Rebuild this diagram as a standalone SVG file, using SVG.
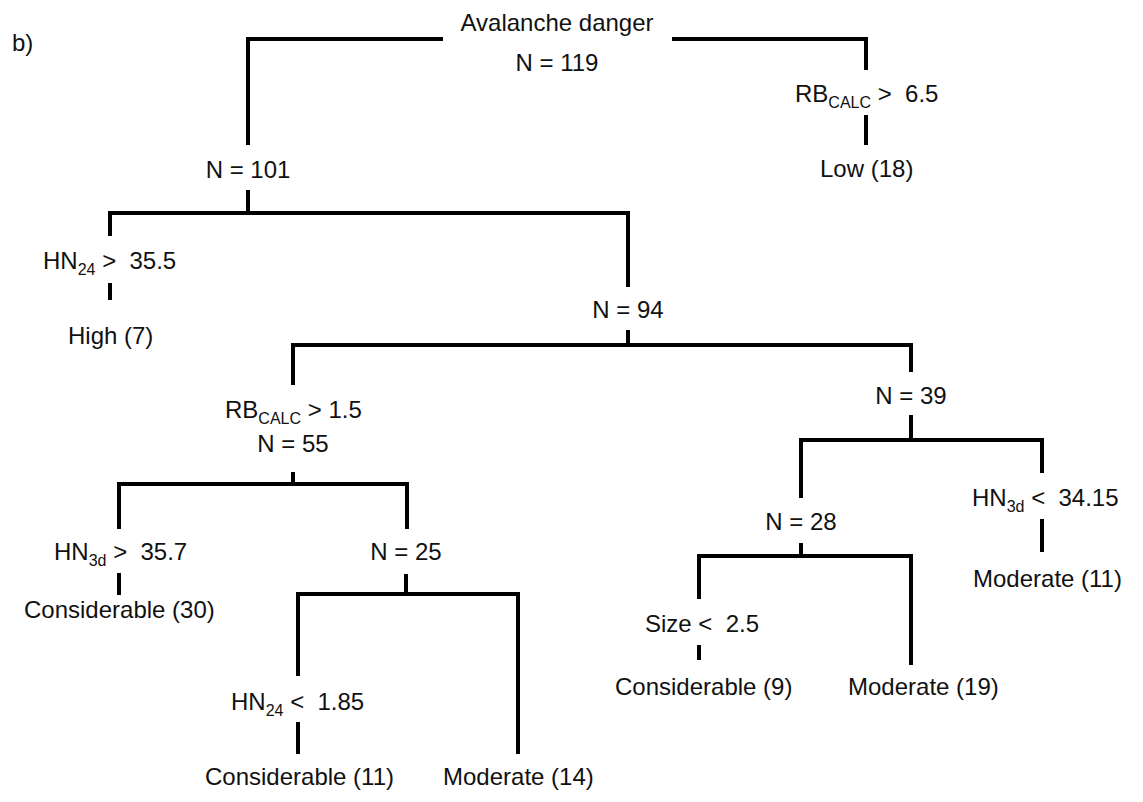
<svg xmlns="http://www.w3.org/2000/svg" width="1143" height="802" viewBox="0 0 1143 802">
<style>
text{font-family:"Liberation Sans",Arial,sans-serif;font-size:24px;fill:#111}
.m{text-anchor:middle}
.sub{font-size:16px}
.e{fill:none;stroke:#000;stroke-width:4;stroke-linejoin:miter;stroke-linecap:butt}
</style>
<rect width="1143" height="802" fill="#fff"/>
<text x="12" y="51">b)</text>
<g id="connectors">
<path class="e" d="M248,145 V39 H443 M672,39 H866 V70"/>
<path class="e" d="M866,115 V145"/>
<path class="e" d="M248,190 V213 M110,236 V213 H628 V287"/>
<path class="e" d="M110,283 V300"/>
<path class="e" d="M628,330 V345 M293,385 V345 H911 V372"/>
<path class="e" d="M293,472 V484 M119,529 V484 H407 V529"/>
<path class="e" d="M119,573 V595"/>
<path class="e" d="M406,574 V594 M298,676 V594 H518 V754"/>
<path class="e" d="M298,722 V754"/>
<path class="e" d="M911,415 V440 M801,498 V440 H1042 V473"/>
<path class="e" d="M1042,519 V552"/>
<path class="e" d="M801,543 V556 M699,599 V556 H911 V665"/>
<path class="e" d="M699,645 V660"/>
</g>
<g id="root"><text class="m" x="557" y="31">Avalanche danger</text><text class="m" x="557" y="71">N = 119</text></g>
<g id="n101"><text class="m" x="248" y="178">N = 101</text></g>
<g id="rb65"><text x="795" y="102" xml:space="preserve">RB<tspan class="sub" dy="6">CALC</tspan><tspan dy="-6"> &gt;  6.5</tspan></text></g>
<g id="low18"><text x="820" y="177">Low (18)</text></g>
<g id="hn24a"><text x="43" y="269" xml:space="preserve">HN<tspan class="sub" dy="6">24</tspan><tspan dy="-6"> &gt;  35.5</tspan></text></g>
<g id="high7"><text x="68" y="344">High (7)</text></g>
<g id="n94"><text class="m" x="628" y="318">N = 94</text></g>
<g id="n55"><text x="225" y="418" xml:space="preserve">RB<tspan class="sub" dy="6">CALC</tspan><tspan dy="-6"> &gt; 1.5</tspan></text><text class="m" x="293" y="452">N = 55</text></g>
<g id="n39"><text class="m" x="911" y="404">N = 39</text></g>
<g id="hn3da"><text x="54" y="560" xml:space="preserve">HN<tspan class="sub" dy="6">3d</tspan><tspan dy="-6"> &gt;  35.7</tspan></text></g>
<g id="cons30"><text x="24" y="618">Considerable (30)</text></g>
<g id="n25"><text class="m" x="406" y="560">N = 25</text></g>
<g id="n28"><text class="m" x="801" y="530">N = 28</text></g>
<g id="hn3db"><text x="972" y="506" xml:space="preserve">HN<tspan class="sub" dy="6">3d</tspan><tspan dy="-6"> &lt;  34.15</tspan></text></g>
<g id="mod11"><text x="973" y="587">Moderate (11)</text></g>
<g id="size"><text x="645" y="632" xml:space="preserve">Size &lt;  2.5</text></g>
<g id="cons9"><text x="615" y="695">Considerable (9)</text></g>
<g id="mod19"><text x="848" y="695">Moderate (19)</text></g>
<g id="hn24b"><text x="231" y="710" xml:space="preserve">HN<tspan class="sub" dy="6">24</tspan><tspan dy="-6"> &lt;  1.85</tspan></text></g>
<g id="cons11"><text x="205" y="785">Considerable (11)</text></g>
<g id="mod14"><text x="443" y="785">Moderate (14)</text></g>
</svg>
